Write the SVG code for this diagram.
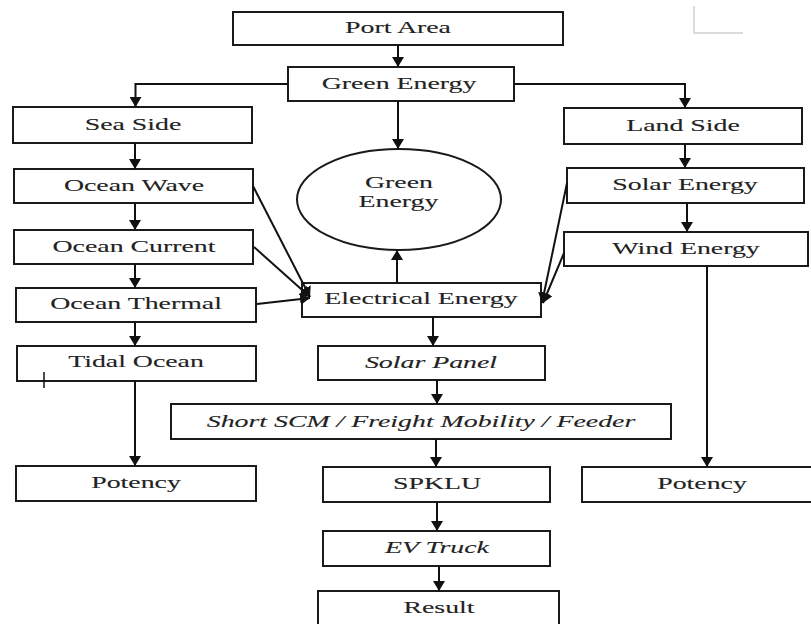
<svg xmlns="http://www.w3.org/2000/svg" width="811" height="624" viewBox="0 0 811 624">
<style>
.box{fill:#fff;stroke:#1a1a1a;stroke-width:2}
.t{font-family:'Liberation Serif','Times New Roman',Times,serif;font-size:16px;fill:#222;stroke:#222;stroke-width:0.1;text-anchor:middle}
.i{font-style:italic}
.c{fill:none;stroke:#111;stroke-width:2}
</style>
<defs>
<marker id="ah" viewBox="0 0 10 12" refX="10" refY="6" markerWidth="10" markerHeight="12" markerUnits="userSpaceOnUse" orient="auto">
<path d="M0,0 L10,6 L0,12 z" fill="#111"/>
</marker>
</defs>
<rect width="811" height="624" fill="#fff"/>
<path d="M694,6 V33 H743" fill="none" stroke="#d0d0d0" stroke-width="1.5"/>
<g id="port"><rect class="box" x="233" y="12" width="330" height="33"/><text class="t" transform="translate(398,33) scale(1.74,1)">Port Area</text></g>
<g id="green"><rect class="box" x="288" y="67" width="226" height="34"/><text class="t" transform="translate(399,88.5) scale(1.74,1)">Green Energy</text></g>
<g id="sea"><rect class="box" x="13" y="107" width="239" height="36"/><text class="t" transform="translate(133,129.5) scale(1.74,1)">Sea Side</text></g>
<g id="land"><rect class="box" x="564" y="108" width="238" height="36"/><text class="t" transform="translate(683,131) scale(1.74,1)">Land Side</text></g>
<g id="wave"><rect class="box" x="14" y="169" width="239" height="34"/><text class="t" transform="translate(134,191) scale(1.74,1)">Ocean Wave</text></g>
<g id="current"><rect class="box" x="14" y="230" width="239" height="34"/><text class="t" transform="translate(134,252) scale(1.74,1)">Ocean Current</text></g>
<g id="thermal"><rect class="box" x="16" y="288" width="240" height="34"/><text class="t" transform="translate(136,309) scale(1.74,1)">Ocean Thermal</text></g>
<g id="tidal"><rect class="box" x="17" y="346" width="239" height="35"/><text class="t" transform="translate(136,367) scale(1.74,1)">Tidal Ocean</text><path d="M44,372 V388" stroke="#111" stroke-width="1.5"/></g>
<g id="circle"><ellipse cx="399" cy="199.5" rx="102" ry="50.5" fill="#fff" stroke="#1a1a1a" stroke-width="2"/><text class="t" transform="translate(399,188) scale(1.74,1)">Green</text><text class="t" transform="translate(398.5,207) scale(1.74,1)">Energy</text></g>
<g id="solar"><rect class="box" x="567" y="168" width="237" height="35"/><text class="t" transform="translate(685,190) scale(1.74,1)">Solar Energy</text></g>
<g id="wind"><rect class="box" x="564" y="232" width="244" height="34"/><text class="t" transform="translate(686,254) scale(1.74,1)">Wind Energy</text></g>
<g id="elec"><rect class="box" x="302" y="283" width="239" height="34"/><text class="t" transform="translate(421,304) scale(1.74,1)">Electrical Energy</text></g>
<g id="solarpanel"><rect class="box" x="318" y="346" width="227" height="34"/><text class="t i" transform="translate(431,368) scale(1.74,1)">Solar Panel</text></g>
<g id="short"><rect class="box" x="171" y="404" width="500" height="35"/><text class="t i" transform="translate(421,426.5) scale(1.74,1)">Short SCM / Freight Mobility / Feeder</text></g>
<g id="potencyL"><rect class="box" x="16" y="466" width="240" height="35"/><text class="t" transform="translate(136,488) scale(1.74,1)">Potency</text></g>
<g id="spklu"><rect class="box" x="323" y="467" width="227" height="35"/><text class="t" transform="translate(437,488.5) scale(1.74,1)">SPKLU</text></g>
<g id="potencyR"><rect class="box" x="582" y="467" width="240" height="35"/><text class="t" transform="translate(702,488.5) scale(1.74,1)">Potency</text></g>
<g id="ev"><rect class="box" x="323" y="531" width="227" height="35"/><text class="t i" transform="translate(437,552.5) scale(1.74,1)">EV Truck</text></g>
<g id="result"><rect class="box" x="318" y="591" width="241" height="40"/><text class="t" transform="translate(439,612.5) scale(1.74,1)">Result</text></g>
<g id="connectors">
<path class="c" marker-end="url(#ah)" d="M398,45 V67"/>
<path class="c" marker-end="url(#ah)" d="M288,84 H135.5 V107"/>
<path class="c" marker-end="url(#ah)" d="M514,84 H685 V108"/>
<path class="c" marker-end="url(#ah)" d="M398,101 V149"/>
<path class="c" marker-end="url(#ah)" d="M135,143 V169"/>
<path class="c" marker-end="url(#ah)" d="M135,203 V230"/>
<path class="c" marker-end="url(#ah)" d="M135,264 V288"/>
<path class="c" marker-end="url(#ah)" d="M135,322 V346"/>
<path class="c" marker-end="url(#ah)" d="M135,381 V466"/>
<path class="c" marker-end="url(#ah)" d="M685,144 V168"/>
<path class="c" marker-end="url(#ah)" d="M687,203 V232"/>
<path class="c" marker-end="url(#ah)" d="M707,266 V467"/>
<path class="c" marker-end="url(#ah)" d="M253,186 L310,297"/>
<path class="c" marker-end="url(#ah)" d="M254,247 L310,297"/>
<path class="c" marker-end="url(#ah)" d="M257,304 L310,298"/>
<path class="c" marker-end="url(#ah)" d="M567,183 L542,303"/>
<path class="c" marker-end="url(#ah)" d="M564,253 L543,303"/>
<path class="c" marker-end="url(#ah)" d="M397,283 V250"/>
<path class="c" marker-end="url(#ah)" d="M433,317 V346"/>
<path class="c" marker-end="url(#ah)" d="M437,380 V404"/>
<path class="c" marker-end="url(#ah)" d="M436,439 V467"/>
<path class="c" marker-end="url(#ah)" d="M437,502 V531"/>
<path class="c" marker-end="url(#ah)" d="M439,566 V591"/>
</g>
</svg>
